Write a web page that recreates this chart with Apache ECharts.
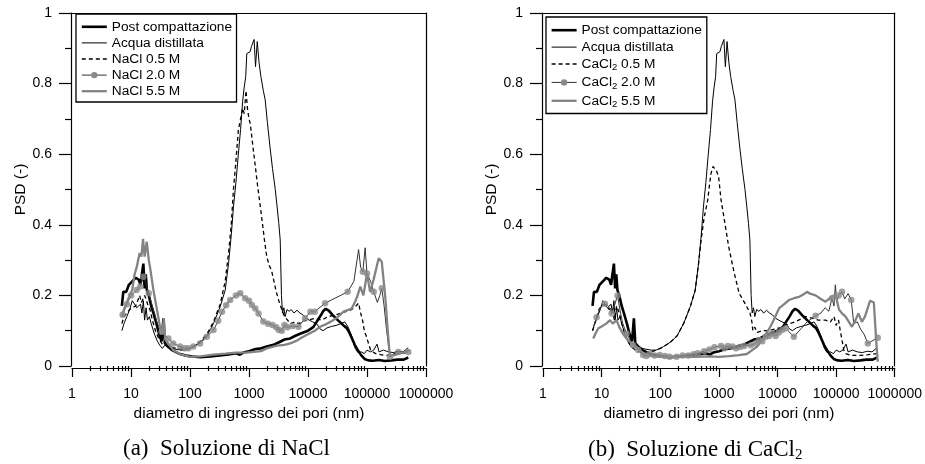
<!DOCTYPE html>
<html><head><meta charset="utf-8">
<script src="https://cdn.jsdelivr.net/npm/echarts@6/dist/echarts.min.js"></script>
<style>html,body{margin:0;padding:0;background:#fff}#c{width:925px;height:464px}</style>
</head><body><div id="c"></div>
<script>
// ---------- tick values ----------
const xTicksMajor = [1, 10, 100, 1000, 10000, 100000, 1000000];
const xMinorFactors = [2, 3, 4, 5, 6, 7, 8, 9];
const xTicksMinor = [];
xTicksMajor.slice(0, 6).forEach(d => xMinorFactors.forEach(f => xTicksMinor.push(d * f)));

// ---------- shared curves (both panels) ----------
const postComp = [[7,0.17],[7.4,0.21],[8.3,0.21],[9.2,0.23],[10.5,0.24],[12,0.25],[13.5,0.245],[14.5,0.23],[15.3,0.26],[16.2,0.29],[17,0.22],[17.8,0.26],[18.6,0.215],[20,0.2],[22,0.17],[24,0.15],[27,0.12],[30,0.09],[33,0.07],[35.5,0.135],[37.5,0.065],[42,0.055],[50,0.045],[65,0.035],[85,0.03],[110,0.027],[150,0.025],[220,0.027],[320,0.03],[450,0.033],[600,0.036],[700,0.032],[800,0.038],[1000,0.042],[1300,0.048],[1600,0.05],[2000,0.055],[2600,0.06],[3300,0.068],[4000,0.075],[5000,0.078],[6000,0.085],[7500,0.092],[10000,0.1],[12300,0.11],[14000,0.125],[16000,0.14],[18000,0.155],[20000,0.162],[22500,0.157],[26000,0.145],[32000,0.13],[40000,0.115],[45000,0.108],[50000,0.095],[55000,0.08],[62000,0.06],[70000,0.045],[80000,0.03],[91000,0.02],[105000,0.016],[125000,0.015],[160000,0.017],[200000,0.014],[260000,0.016],[330000,0.018],[420000,0.018],[500000,0.024]];
const acqua = [[7,0.10],[7.6,0.12],[8.5,0.14],[9.5,0.16],[10.5,0.185],[11.5,0.175],[12.5,0.165],[13.5,0.16],[14.5,0.175],[15.3,0.15],[16.2,0.185],[17,0.13],[18,0.165],[19,0.13],[20.5,0.14],[22,0.12],[25,0.09],[28,0.07],[31,0.058],[34,0.05],[38,0.06],[45,0.052],[55,0.048],[70,0.045],[85,0.045],[100,0.05],[114,0.055],[150,0.068],[193,0.085],[250,0.12],[325,0.168],[395,0.215],[450,0.29],[500,0.37],[545,0.45],[600,0.52],[660,0.6],[720,0.67],[780,0.75],[830,0.79],[880,0.82],[918,0.885],[980,0.89],[1040,0.89],[1100,0.905],[1160,0.91],[1220,0.925],[1290,0.848],[1380,0.919],[1480,0.86],[1590,0.82],[1750,0.78],[1880,0.754],[2050,0.69],[2270,0.62],[2500,0.56],[2790,0.5],[3000,0.45],[3200,0.404],[3380,0.357],[3550,0.2],[3700,0.15],[3900,0.165],[4100,0.14],[4400,0.16],[4800,0.155],[5200,0.16],[5800,0.15],[6500,0.158],[7300,0.15],[8200,0.145],[9300,0.135],[10500,0.13],[12000,0.125],[14000,0.12],[16000,0.105],[18000,0.10],[21000,0.108],[25000,0.112],[30000,0.115],[36000,0.12],[42000,0.125],[48000,0.11],[55000,0.085],[63000,0.05],[70000,0.038],[80000,0.04],[90000,0.035],[100000,0.045],[115000,0.04],[130000,0.045],[148000,0.062],[160000,0.04],[190000,0.045],[230000,0.04],[280000,0.038],[340000,0.042],[410000,0.04],[500000,0.052]];

// ---------- panel (a): NaCl ----------
const nacl05 = [[7,0.12],[7.6,0.14],[8.5,0.15],[9.5,0.16],[10.5,0.165],[12,0.17],[13,0.185],[14,0.2],[15,0.18],[16,0.175],[17,0.2],[18,0.19],[19.5,0.17],[21,0.16],[23,0.13],[26,0.1],[30,0.075],[34,0.062],[40,0.058],[50,0.052],[60,0.05],[75,0.047],[90,0.048],[100,0.05],[114,0.055],[150,0.07],[193,0.09],[250,0.125],[325,0.175],[395,0.24],[450,0.32],[500,0.4],[545,0.5],[600,0.58],[660,0.668],[720,0.7],[780,0.73],[830,0.715],[890,0.78],[940,0.73],[1000,0.7],[1050,0.687],[1150,0.63],[1250,0.58],[1400,0.51],[1560,0.45],[1700,0.4],[1850,0.35],[2000,0.31],[2200,0.285],[2400,0.272],[2650,0.24],[2900,0.21],[3200,0.185],[3600,0.16],[4000,0.14],[4500,0.13],[5000,0.12],[6000,0.125],[7000,0.12],[8500,0.128],[10000,0.13],[13000,0.135],[17000,0.13],[22000,0.14],[30000,0.145],[45000,0.155],[55000,0.16],[65000,0.17],[72000,0.178],[78000,0.15],[84000,0.13],[90000,0.1],[97000,0.085],[106000,0.064],[115000,0.045],[125000,0.04],[140000,0.035],[170000,0.032],[220000,0.03],[300000,0.035],[400000,0.038],[500000,0.042]];
const nacl20 = [[7.2,0.145],[8.5,0.175],[10,0.2],[12.5,0.215],[14.3,0.225],[16.2,0.253],[20,0.206],[33,0.097],[43,0.078],[52,0.064],[68,0.055],[82,0.05],[94,0.05],[114,0.055],[148,0.064],[193,0.083],[250,0.102],[300,0.128],[348,0.154],[410,0.172],[480,0.187],[600,0.2],[710,0.206],[860,0.192],[1000,0.185],[1120,0.173],[1280,0.163],[1450,0.149],[1750,0.126],[2100,0.12],[2500,0.116],[2900,0.11],[3200,0.102],[3600,0.1],[4000,0.116],[4500,0.11],[5500,0.113],[6900,0.111],[8900,0.135],[11000,0.154],[13000,0.154],[19500,0.178],[47000,0.21],[85000,0.267],[100000,0.262],[130000,0.21],[178000,0.22],[245000,0.026],[340000,0.04],[500000,0.04]];
const nacl20Extra = [[17.5,0.24],[25,0.15],[28,0.12],[60000,0.24],[72000,0.33],[78000,0.28],[93000,0.335],[115000,0.24],[150000,0.18],[165000,0.2],[195000,0.17],[215000,0.1],[290000,0.035],[420000,0.035]];
const nacl55 = [[7,0.14],[7.6,0.16],[8.5,0.18],[9.5,0.2],[10.5,0.215],[11.5,0.26],[12.5,0.28],[14,0.32],[15,0.31],[16,0.36],[17,0.31],[18.5,0.352],[20,0.3],[21,0.28],[24,0.215],[27,0.168],[31,0.111],[34,0.09],[36,0.136],[38,0.075],[42,0.065],[52,0.045],[68,0.033],[100,0.026],[150,0.027],[250,0.032],[400,0.035],[600,0.038],[900,0.038],[1200,0.04],[1600,0.042],[2000,0.05],[3000,0.058],[4000,0.06],[5000,0.064],[6500,0.072],[8300,0.083],[10000,0.09],[13000,0.1],[16000,0.111],[20000,0.118],[24000,0.125],[30000,0.135],[40000,0.154],[55000,0.163],[62000,0.18],[68000,0.196],[77000,0.225],[87000,0.2],[100000,0.262],[113000,0.21],[129000,0.244],[145000,0.28],[158000,0.305],[178000,0.295],[204000,0.196],[224000,0.102],[243000,0.031],[280000,0.03],[360000,0.036],[460000,0.04],[520000,0.045]];

// ---------- panel (b): CaCl2 ----------
const cacl05 = [[7,0.1],[8,0.13],[9,0.16],[10.5,0.175],[12,0.17],[13.5,0.16],[15,0.165],[16.5,0.13],[18,0.17],[20,0.15],[22,0.12],[25,0.09],[28,0.07],[32,0.055],[38,0.045],[45,0.04],[55,0.038],[70,0.04],[85,0.045],[100,0.05],[114,0.055],[150,0.068],[193,0.085],[250,0.12],[325,0.168],[395,0.215],[450,0.29],[500,0.36],[560,0.42],[645,0.47],[700,0.52],[736,0.546],[790,0.565],[835,0.57],[900,0.555],[990,0.536],[1090,0.47],[1240,0.414],[1470,0.338],[1830,0.263],[2220,0.206],[2880,0.173],[3400,0.15],[3650,0.126],[3800,0.1],[4100,0.11],[4500,0.095],[5500,0.1],[7000,0.1],[9000,0.105],[12000,0.11],[16000,0.12],[20000,0.125],[30000,0.14],[40000,0.135],[50000,0.13],[66000,0.13],[80000,0.125],[92000,0.14],[100000,0.115],[110000,0.13],[117000,0.102],[126000,0.074],[135000,0.045],[145000,0.035],[180000,0.03],[250000,0.03],[350000,0.032],[500000,0.035]];
const cacl20 = [[8.2,0.138],[11.4,0.176],[14.8,0.149],[18.7,0.2],[26.6,0.092],[34.5,0.059],[42,0.045],[51,0.031],[58,0.028],[66,0.034],[80,0.03],[98,0.031],[120,0.028],[145,0.026],[190,0.026],[240,0.03],[300,0.03],[370,0.033],[437,0.036],[560,0.042],[690,0.047],[840,0.053],[1090,0.057],[1250,0.05],[1420,0.057],[1700,0.055],[1950,0.05],[2300,0.054],[2700,0.057],[3500,0.059],[4270,0.064],[4850,0.074],[5500,0.07],[6300,0.083],[7200,0.085],[8130,0.092],[9300,0.085],[10500,0.095],[12000,0.102],[13800,0.107],[19000,0.083],[44500,0.142],[85000,0.192],[110000,0.2],[126000,0.21],[181000,0.187],[347000,0.064],[513000,0.08]];
const cacl20Extra = [[7.2,0.11],[9.5,0.165],[13,0.17],[16.5,0.17],[21,0.15],[23,0.12],[25000,0.105],[32000,0.125],[55000,0.15],[65000,0.165],[75000,0.155],[92000,0.17],[97000,0.23],[103000,0.18],[140000,0.19],[160000,0.205],[200000,0.12],[230000,0.125],[260000,0.105],[300000,0.09]];
const cacl55 = [[7.2,0.078],[8,0.095],[8.8,0.107],[10,0.112],[10.7,0.116],[12,0.12],[13.9,0.13],[15.5,0.12],[16.5,0.125],[18,0.13],[20,0.11],[23,0.092],[26,0.08],[30,0.069],[39,0.055],[48,0.04],[58,0.031],[80,0.027],[120,0.026],[200,0.026],[400,0.026],[700,0.027],[1000,0.026],[1500,0.028],[2200,0.031],[3000,0.034],[3700,0.045],[4500,0.055],[5500,0.074],[6300,0.09],[7200,0.105],[8100,0.121],[9200,0.14],[10600,0.163],[13000,0.175],[15800,0.187],[19000,0.192],[23500,0.196],[28000,0.203],[31600,0.21],[36000,0.205],[44700,0.2],[55000,0.19],[66000,0.182],[75000,0.19],[91000,0.2],[100000,0.195],[112000,0.16],[126000,0.149],[145000,0.14],[165000,0.125],[186000,0.111],[214000,0.13],[240000,0.149],[275000,0.125],[310000,0.14],[380000,0.185],[440000,0.18],[490000,0.055],[513000,0.012]];

const namesA = ['Post compattazione', 'Acqua distillata', 'NaCl 0.5 M', 'NaCl 2.0 M', 'NaCl 5.5 M'];
const namesB = ['Post compattazione', 'Acqua distillata', 'CaCl2 0.5 M', 'CaCl2 2.0 M', 'CaCl2 5.5 M'];
const captions = ['(a)  Soluzione di NaCl', '(b)  Soluzione di CaCl{s|2}'];

// ---------- styling ----------
const SANS = 'Liberation Sans, Arial, sans-serif';
const SERIF = 'Liberation Serif, Times New Roman, serif';
const BLACK = '#000';
const GRAY = '#838383';
const MARK = '#8a8a8a';
const axLine = { color: BLACK, width: 1.2 };

const grids = [
  { left: 72, top: 13, width: 354, height: 353 },
  { left: 543, top: 13, width: 354, height: 353 }
];

const xAxes = [], yAxes = [];
grids.forEach((g, gi) => {
  xAxes.push({
    gridIndex: gi, type: 'log', logBase: 10, min: 1, max: 1000000, position: 'bottom', offset: 2,
    axisLine: { show: true, onZero: false, lineStyle: axLine },
    axisTick: { show: true, length: 9, customValues: xTicksMajor, lineStyle: axLine },
    axisLabel: { customValues: xTicksMajor, formatter: v => String(Math.round(v)), margin: 19, fontSize: 14, color: BLACK, fontFamily: SANS },
    splitLine: { show: false },
    name: 'diametro di ingresso dei pori (nm)', nameLocation: 'middle', nameGap: 37,
    nameTextStyle: { fontSize: 15.5, color: BLACK, fontFamily: SANS }
  });
  xAxes.push({
    gridIndex: gi, type: 'log', logBase: 10, min: 1, max: 1000000, position: 'bottom', offset: 2,
    axisLine: { show: false },
    axisTick: { show: true, length: 5, customValues: xTicksMinor, lineStyle: axLine },
    axisLabel: { show: false }, splitLine: { show: false }
  });
  xAxes.push({
    gridIndex: gi, type: 'log', logBase: 10, min: 1, max: 1000000, position: 'top',
    axisLine: { show: true, onZero: false, lineStyle: axLine },
    axisTick: { show: false }, axisLabel: { show: false }, splitLine: { show: false }
  });
  yAxes.push({
    gridIndex: gi, type: 'value', min: 0, max: 1, interval: 0.2, position: 'left', offset: 1,
    axisLine: { show: true, onZero: false, lineStyle: axLine },
    axisTick: { show: true, length: 12, lineStyle: axLine },
    minorTick: { show: true, splitNumber: 2, length: 6, lineStyle: axLine },
    axisLabel: { margin: 19, fontSize: 14, color: BLACK, fontFamily: SANS },
    splitLine: { show: false },
    name: 'PSD (-)', nameLocation: 'middle', nameGap: 42, nameRotate: 90,
    nameTextStyle: { fontSize: 15.5, color: BLACK, fontFamily: SANS }
  });
  yAxes.push({
    gridIndex: gi, type: 'value', min: 0, max: 1, position: 'right',
    axisLine: { show: true, onZero: false, lineStyle: axLine },
    axisTick: { show: false }, axisLabel: { show: false }, splitLine: { show: false }
  });
});

function byX(a, b) { return a[0] - b[0]; }

function panelSeries(pi, names, c05, c20, c20x, c55) {
  const xi = pi * 3, yi = pi * 2;
  const base = { type: 'line', xAxisIndex: xi, yAxisIndex: yi, symbol: 'none', silent: true, animation: false };
  return [
    Object.assign({}, base, { name: names[0], data: postComp, lineStyle: { color: BLACK, width: 2.6 }, itemStyle: { color: BLACK }, z: 3 }),
    Object.assign({}, base, { name: names[1], data: acqua, lineStyle: { color: BLACK, width: 1 }, itemStyle: { color: BLACK }, z: 3 }),
    Object.assign({}, base, { name: names[2], data: c05, lineStyle: { color: BLACK, width: 1.3, type: [4, 3] }, itemStyle: { color: BLACK }, z: 3 }),
    Object.assign({}, base, { name: names[3], data: c20.concat(c20x).sort(byX), symbol: 'circle', showSymbol: false, lineStyle: { color: '#333', width: 1 }, itemStyle: { color: MARK }, z: 3 }),
    Object.assign({}, base, { name: names[4], data: c55, lineStyle: { color: GRAY, width: 2.3 }, itemStyle: { color: GRAY }, z: 4 }),
    { type: 'scatter', name: names[3], xAxisIndex: xi, yAxisIndex: yi, data: c20, symbol: 'circle', symbolSize: 6.5, itemStyle: { color: MARK }, silent: true, z: 5, animation: false }
  ];
}

function legendData(names) {
  return [
    { name: names[0], itemStyle: { opacity: 0 }, lineStyle: { width: 2.6, color: BLACK } },
    { name: names[1], itemStyle: { opacity: 0 }, lineStyle: { width: 1, color: BLACK } },
    { name: names[2], itemStyle: { opacity: 0 }, lineStyle: { width: 1.3, color: BLACK, type: [4, 3] } },
    { name: names[3], itemStyle: { color: MARK, borderWidth: 0 }, lineStyle: { width: 1, color: '#333' } },
    { name: names[4], itemStyle: { opacity: 0 }, lineStyle: { width: 2.3, color: GRAY } }
  ];
}

const legendBase = {
  orient: 'vertical', itemWidth: 25, itemHeight: 8, selectedMode: false,
  borderColor: BLACK, borderWidth: 1.3, backgroundColor: '#fff',
  textStyle: { fontSize: 13.7, color: BLACK, fontFamily: SANS }
};

const option = {
  animation: false,
  backgroundColor: '#fff',
  title: [
    { text: captions[0], left: 123, top: 437, padding: 0,
      textStyle: { fontFamily: SERIF, fontSize: 23, fontWeight: 'normal', color: BLACK } },
    { text: captions[1], left: 588, top: 437, padding: 0,
      textStyle: { fontFamily: SERIF, fontSize: 23, fontWeight: 'normal', color: BLACK,
        rich: { s: { fontFamily: SERIF, fontSize: 15, verticalAlign: 'bottom', lineHeight: 26, color: BLACK } } } }
  ],
  grid: grids,
  xAxis: xAxes,
  yAxis: yAxes,
  legend: [
    Object.assign({}, legendBase, { left: 76, top: 14, itemGap: 2.1, padding: [5.8, 4.5, 3.8, 4.5], data: legendData(namesA) }),
    Object.assign({}, legendBase, { left: 546, top: 17, itemGap: 2.9, padding: [6.2, 5, 4.2, 4.3], data: legendData(namesB),
      formatter: n => n.replace('CaCl2', 'CaCl{s|2}'),
      textStyle: { fontSize: 13.7, color: BLACK, fontFamily: SANS,
        rich: { s: { fontSize: 9.5, fontFamily: SANS, color: BLACK, verticalAlign: 'bottom', lineHeight: 17 } } } })
  ],
  series: panelSeries(0, namesA, nacl05, nacl20, nacl20Extra, nacl55)
    .concat(panelSeries(1, namesB, cacl05, cacl20, cacl20Extra, cacl55))
};

echarts.init(document.getElementById('c'), null, { renderer: 'canvas' }).setOption(option);
</script>
</body></html>
